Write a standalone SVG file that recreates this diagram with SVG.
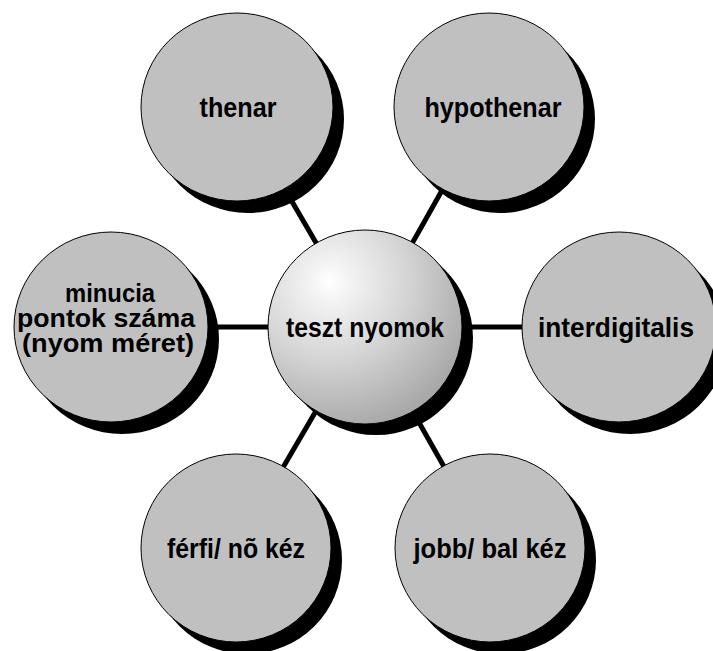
<svg xmlns="http://www.w3.org/2000/svg" width="713" height="651" viewBox="0 0 713 651">
  <style>
    .shadow { fill: #000000; }
    .bubble { fill: #c0c0c0; stroke: #000000; stroke-width: 1; }
    .hub { fill: url(#hubShade); stroke: #000000; stroke-width: 1; }
    .label { font-family: "Liberation Sans", Arial, sans-serif; font-weight: bold; font-size: 28px; fill: #000000; text-anchor: middle; }
    .label.small { font-size: 25px; }
    .spoke { stroke: #000000; stroke-width: 5; fill: none; }
  </style>
  <defs>
    <radialGradient id="hubShade" gradientUnits="userSpaceOnUse" cx="330" cy="282" r="150" fx="330" fy="282">
      <stop offset="0" stop-color="#ffffff"/>
      <stop offset="0.12" stop-color="#f4f4f4"/>
      <stop offset="0.5" stop-color="#d6d6d6"/>
      <stop offset="1" stop-color="#a8a8a8"/>
    </radialGradient>
  </defs>
  <rect width="713" height="651" fill="#ffffff"/>

  <!-- spokes from the hub to each outer bubble -->
  <g id="connectors">
    <line class="spoke" x1="365" y1="327" x2="237" y2="107"/>
    <line class="spoke" x1="365" y1="327" x2="489" y2="107"/>
    <line class="spoke" x1="365" y1="327" x2="111" y2="327"/>
    <line class="spoke" x1="365" y1="327" x2="619" y2="327"/>
    <line class="spoke" x1="365" y1="327" x2="236" y2="548"/>
    <line class="spoke" x1="365" y1="327" x2="490" y2="548"/>
  </g>

  <g id="node-thenar">
    <ellipse class="shadow" cx="248" cy="119" rx="96" ry="94"/>
    <ellipse class="bubble" cx="237" cy="107" rx="96" ry="94"/>
    <text class="label" x="238" y="117" textLength="77" lengthAdjust="spacingAndGlyphs">thenar</text>
  </g>

  <g id="node-hypothenar">
    <ellipse class="shadow" cx="500" cy="119" rx="95" ry="94"/>
    <ellipse class="bubble" cx="489" cy="107" rx="95" ry="94"/>
    <text class="label" x="493" y="117" textLength="137" lengthAdjust="spacingAndGlyphs">hypothenar</text>
  </g>

  <g id="node-minucia">
    <ellipse class="shadow" cx="122" cy="339" rx="97" ry="95"/>
    <ellipse class="bubble" cx="111" cy="327" rx="97" ry="95"/>
    <text class="label small" x="110" y="302" textLength="90" lengthAdjust="spacingAndGlyphs">minucia</text>
    <text class="label small" x="106" y="327" textLength="178" lengthAdjust="spacingAndGlyphs">pontok száma</text>
    <text class="label small" x="108" y="352" textLength="172" lengthAdjust="spacingAndGlyphs">(nyom méret)</text>
  </g>

  <g id="node-interdigitalis">
    <ellipse class="shadow" cx="630" cy="339" rx="97" ry="95"/>
    <ellipse class="bubble" cx="619" cy="327" rx="97" ry="95"/>
    <text class="label" x="616" y="337" textLength="156" lengthAdjust="spacingAndGlyphs">interdigitalis</text>
  </g>

  <g id="node-ferfi-no">
    <ellipse class="shadow" cx="247" cy="560" rx="95" ry="94"/>
    <ellipse class="bubble" cx="236" cy="548" rx="95" ry="94"/>
    <text class="label" x="236" y="558" textLength="138" lengthAdjust="spacingAndGlyphs">férfi/ nõ kéz</text>
  </g>

  <g id="node-jobb-bal">
    <ellipse class="shadow" cx="501" cy="560" rx="95" ry="94"/>
    <ellipse class="bubble" cx="490" cy="548" rx="95" ry="94"/>
    <text class="label" x="490" y="558" textLength="153" lengthAdjust="spacingAndGlyphs">jobb/ bal kéz</text>
  </g>

  <g id="node-hub">
    <circle class="shadow" cx="376" cy="338" r="97"/>
    <circle class="hub" cx="365" cy="327" r="97"/>
    <text class="label" x="365" y="337" textLength="158" lengthAdjust="spacingAndGlyphs">teszt nyomok</text>
  </g>
</svg>
